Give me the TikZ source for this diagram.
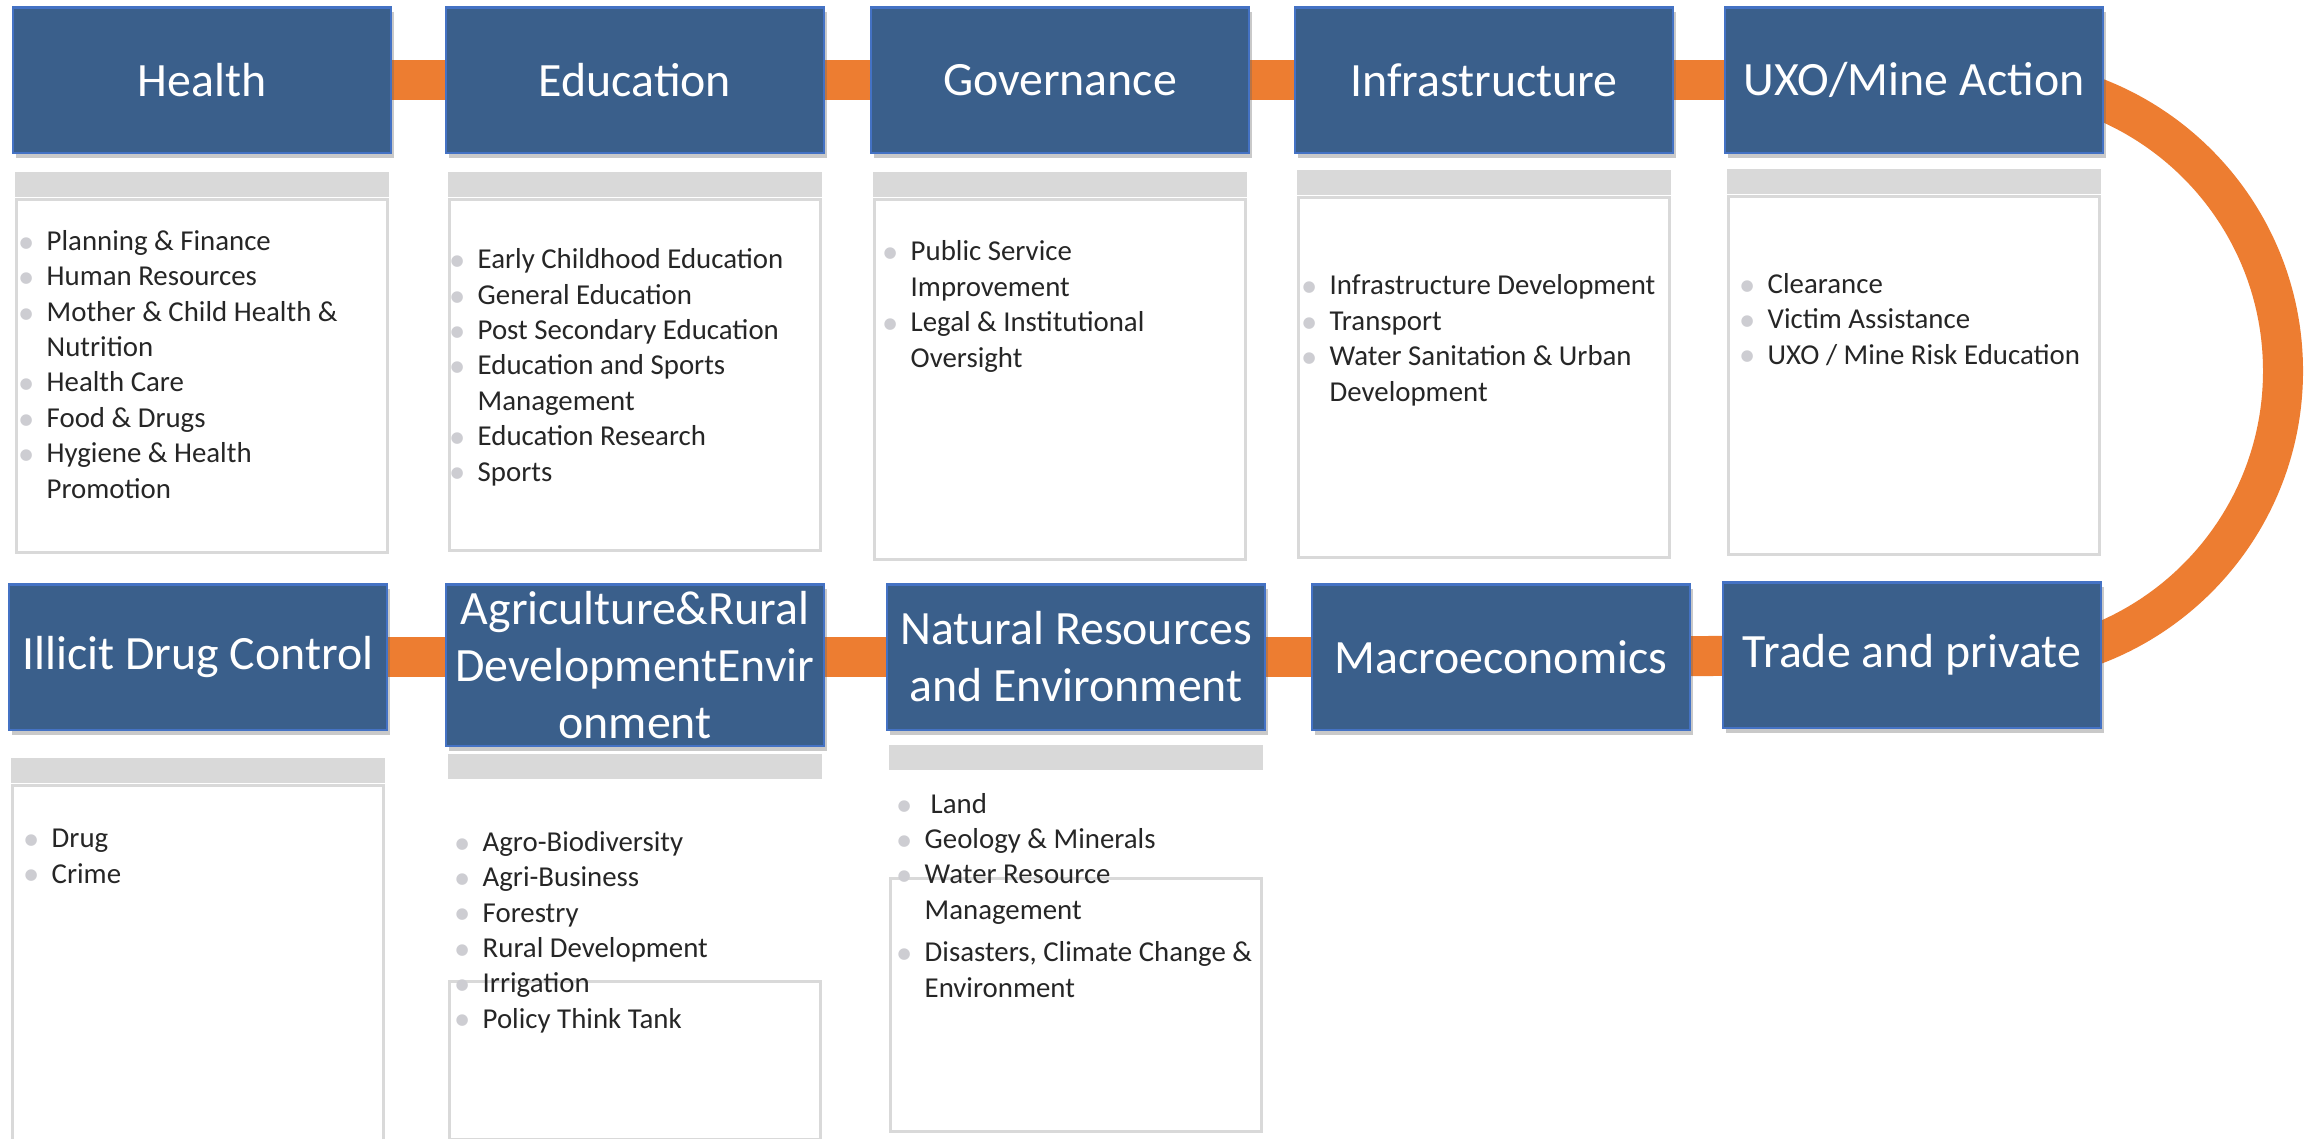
\documentclass[tikz,border=0pt]{standalone}
\usepackage{fontspec}
\setmainfont{Carlito}
\newfontfamily\dejavu{DejaVu Sans}
\usepackage{tikz}
\usetikzlibrary{positioning,shadows,calc}
\definecolor{sectorblue}{RGB}{58,95,139}
\definecolor{sectoredge}{RGB}{68,114,196}
\definecolor{linkorange}{RGB}{237,125,49}
\definecolor{bandgray}{RGB}{217,217,217}
\definecolor{dotgray}{RGB}{205,205,210}
\tikzstyle{sector}=[draw=sectoredge,fill=sectorblue,line width=0.6pt,minimum width=3.77cm,minimum height=1.45cm,inner sep=0pt,align=center,text=white,font=\fontsize{13.6pt}{16.2pt}\selectfont,drop shadow={shadow xshift=0.3mm,shadow yshift=-0.5mm,opacity=0.35,fill=black!60}]
\tikzstyle{band}=[fill=bandgray,minimum width=3.73cm,minimum height=0.25cm,inner sep=0pt]
\tikzstyle{sheet}=[draw=bandgray,line width=0.9pt,fill=white,minimum width=3.71cm,inner sep=0pt]
% lists are placed by the baseline of their last line
\tikzstyle{items}=[anchor=base west,align=left,inner sep=0pt,text=black!85,font=\fontsize{8.2pt}{10.05pt}\selectfont]
\tikzstyle{link}=[draw=linkorange,line width=4mm]
\newcommand{\itm}{\makebox[0pt][r]{\raisebox{0.9pt}{\textcolor{dotgray}{\dejavu\fontsize{4.3pt}{4.3pt}\selectfont ●}}\hspace{1.4mm}}}
\pgfdeclarelayer{background}
\pgfsetlayers{background,main}

\begin{document}
\begin{tikzpicture}[x=0.01cm,y=-0.01cm]
\useasboundingbox (0,0) rectangle (2318,1138);

% top row
\node[sector] (health) at (202,80) {Health};
\node[sector] (educ) at (635,80) {Education};
\node[sector] (gov) at (1060,80) {Governance};
\node[sector] (infra) at (1484,80) {Infrastructure};
\node[sector] (uxo) at (1914,80) {UXO/Mine Action};

% bottom row
\node[sector] (drugs) at (198,657) {Illicit Drug Control};
\node[sector,minimum height=1.61cm] (agri) at (635,665) {Agriculture\&Rural\\DevelopmentEnvir\\onment};
\node[sector] (natres) at (1076,657) {Natural Resources\\and Environment};
\node[sector] (macro) at (1501,657) {Macroeconomics};
\node[sector] (trade) at (1912,655) {Trade and private};

% panels under the boxes
\node[band,below=1.8mm of health] (healthband) {};
\node[sheet,minimum height=3.53cm,below=0mm of healthband] (healthsheet) {};
\node[band,below=1.8mm of educ] (educband) {};
\node[sheet,minimum height=3.51cm,below=0mm of educband] (educsheet) {};
\node[band,below=1.8mm of gov] (govband) {};
\node[sheet,minimum height=3.60cm,below=0mm of govband] (govsheet) {};
\node[band,below=1.6mm of infra] (infraband) {};
\node[sheet,minimum height=3.60cm,below=0mm of infraband] (infrasheet) {};
\node[band,below=1.5mm of uxo] (uxoband) {};
\node[sheet,minimum height=3.58cm,below=0mm of uxoband] (uxosheet) {};
\node[band,below=2.7mm of drugs] (drugsband) {};
\node[sheet,minimum height=3.60cm,below=0mm of drugsband] (drugssheet) {};
\node[band,below=0.7mm of agri] (agriband) {};
\node[sheet,minimum height=1.58cm,below=2.0cm of agriband] (agrisheet) {};
\node[band,below=1.4mm of natres] (natresband) {};
\node[sheet,minimum height=2.53cm,below=1.06cm of natresband] (natressheet) {};

% lists
\node[items] (healthlist) at (46,498) {\itm Planning \& Finance\\ \itm Human Resources\\ \itm Mother \& Child Health \&\\ Nutrition\\ \itm Health Care\\ \itm Food \& Drugs\\ \itm Hygiene \& Health\\ Promotion};
\node[items] (educlist) at (477,481) {\itm Early Childhood Education\\ \itm General Education\\ \itm Post Secondary Education\\ \itm Education and Sports\\ Management\\ \itm Education Research\\ \itm Sports};
\node[items] (govlist) at (910,367) {\itm Public Service\\ Improvement\\ \itm Legal \& Institutional\\ Oversight};
\node[items] (infralist) at (1329,401) {\itm Infrastructure Development\\ \itm Transport\\ \itm Water Sanitation \& Urban\\ Development};
\node[items] (uxolist) at (1767,364) {\itm Clearance\\ \itm Victim Assistance\\ \itm UXO / Mine Risk Education};
\node[items] (drugslist) at (51,883) {\itm Drug\\ \itm Crime};
\node[items] (agrilist) at (482,1028) {\itm Agro-Biodiversity\\ \itm Agri-Business\\ \itm Forestry\\ \itm Rural Development\\ \itm Irrigation\\ \itm Policy Think Tank};
\node[items] (natreslist) at (924,997) {\itm\hspace{0.6mm}Land\\ \itm Geology \& Minerals\\ \itm Water Resource\\ Management\\[0.07cm] \itm Disasters, Climate Change \&\\ Environment};

% orange links behind the boxes
\begin{pgfonlayer}{background}
\fill[white] (0,0) rectangle (2318,1138);
\foreach \a/\b in {health/educ,educ/gov,gov/infra,infra/uxo,natres/macro,macro/trade}
  \draw[link] (\a) -- (\b);
\draw[link] (drugs) -- (drugs -| agri.west);
\draw[link] (natres -| agri.east) -- (natres);
\coordinate (loopin) at (1990,78);
\coordinate (loopout) at (1990,664);
\draw[link] (loopin) .. controls (2152,78) and (2283,209) .. (2283,371) .. controls (2283,533) and (2152,664) .. (loopout);
\end{pgfonlayer}
\end{tikzpicture}
\end{document}
